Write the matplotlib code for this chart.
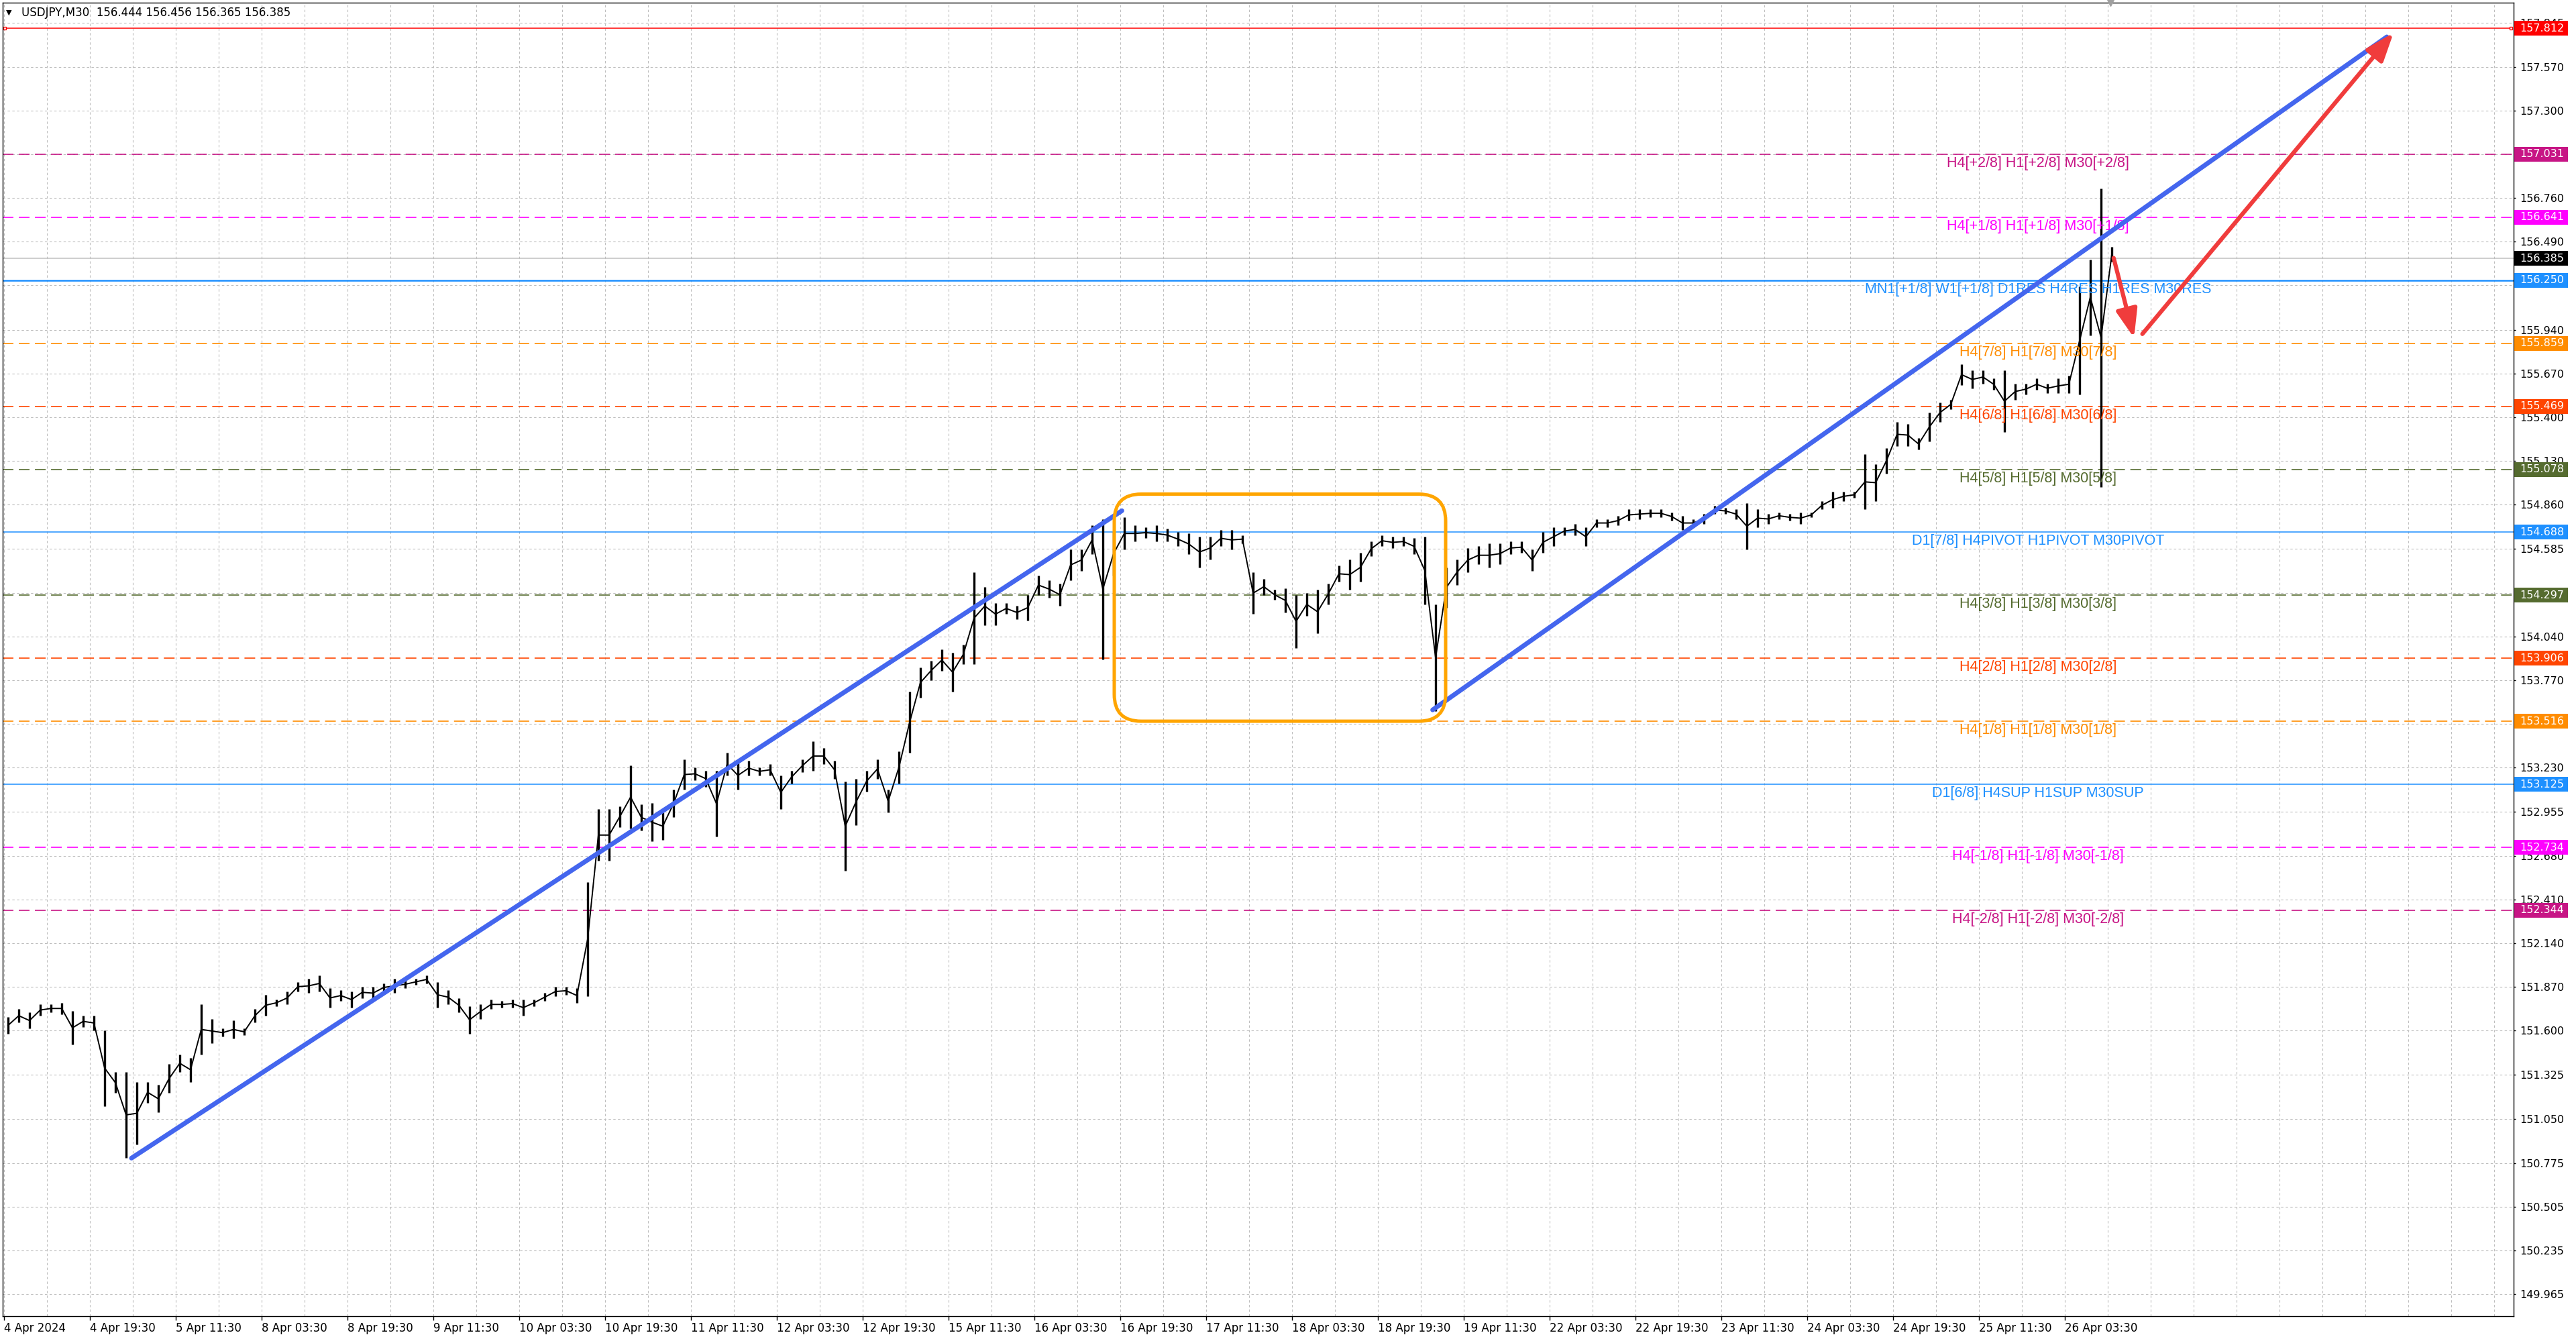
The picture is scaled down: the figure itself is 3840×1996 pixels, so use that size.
import numpy as np
import matplotlib
matplotlib.use('Agg')
import matplotlib.pyplot as plt
from matplotlib.patches import FancyBboxPatch, Rectangle

W, H = 3840, 1996
DPI = 100

# USDJPY M30 in 2-hour chunks (4 bars each): high / low
bar_hi = [151.68, 151.73, 151.71, 151.76, 151.76, 151.77, 151.72, 151.69, 151.69, 151.60,
          151.34, 151.34, 151.28, 151.28, 151.26, 151.39, 151.45, 151.43, 151.76, 151.67,
          151.61, 151.66, 151.61, 151.73, 151.82, 151.79, 151.84, 151.90, 151.92, 151.94,
          151.86, 151.85, 151.84, 151.87, 151.87, 151.89, 151.92, 151.91, 151.92, 151.94,
          151.90, 151.85, 151.80, 151.75, 151.76, 151.79, 151.78, 151.79, 151.79, 151.79,
          151.83, 151.87, 151.87, 151.86, 152.52, 152.97, 152.97, 152.99, 153.24, 153.00,
          153.01, 152.95, 153.09, 153.28, 153.23, 153.21, 153.21, 153.32, 153.27, 153.27,
          153.23, 153.25, 153.18, 153.21, 153.28, 153.39, 153.35, 153.27, 153.14, 153.16,
          153.21, 153.28, 153.09, 153.33, 153.70, 153.85, 153.89, 153.96, 153.94, 153.99,
          154.44, 154.35, 154.25, 154.25, 154.23, 154.30, 154.42, 154.39, 154.37, 154.58,
          154.58, 154.73, 154.77, 154.69, 154.78, 154.73, 154.72, 154.73, 154.71, 154.69,
          154.68, 154.66, 154.66, 154.70, 154.70, 154.67, 154.44, 154.40, 154.33, 154.34,
          154.30, 154.31, 154.33, 154.37, 154.48, 154.52, 154.56, 154.63, 154.67, 154.66,
          154.66, 154.65, 154.66, 154.24, 154.47, 154.52, 154.59, 154.60, 154.62, 154.62,
          154.63, 154.63, 154.58, 154.69, 154.72, 154.72, 154.74, 154.72, 154.77, 154.77,
          154.79, 154.83, 154.83, 154.83, 154.83, 154.81, 154.79, 154.77, 154.80, 154.85,
          154.84, 154.83, 154.87, 154.83, 154.80, 154.81, 154.80, 154.81, 154.81, 154.88,
          154.94, 154.94, 154.94, 155.17, 155.11, 155.21, 155.37, 155.36, 155.27, 155.43,
          155.49, 155.51, 155.73, 155.69, 155.69, 155.64, 155.69, 155.61, 155.61, 155.64,
          155.61, 155.64, 155.66, 156.21, 156.38, 156.82, 156.456]
bar_lo = [151.58, 151.65, 151.61, 151.69, 151.71, 151.70, 151.51, 151.62, 151.60, 151.13,
          151.21, 150.81, 150.89, 151.15, 151.09, 151.21, 151.34, 151.28, 151.45, 151.52,
          151.56, 151.55, 151.57, 151.65, 151.69, 151.75, 151.76, 151.84, 151.83, 151.84,
          151.74, 151.78, 151.74, 151.80, 151.79, 151.84, 151.83, 151.86, 151.88, 151.89,
          151.74, 151.76, 151.71, 151.58, 151.67, 151.73, 151.74, 151.74, 151.69, 151.75,
          151.78, 151.81, 151.82, 151.77, 151.81, 152.65, 152.65, 152.86, 152.85, 152.84,
          152.77, 152.78, 152.92, 153.09, 153.15, 153.11, 152.80, 153.18, 153.09, 153.18,
          153.18, 153.18, 152.97, 153.13, 153.20, 153.21, 153.25, 153.16, 152.59, 152.87,
          153.08, 153.16, 152.95, 153.13, 153.32, 153.66, 153.77, 153.83, 153.70, 153.87,
          153.87, 154.11, 154.11, 154.18, 154.15, 154.14, 154.30, 154.28, 154.23, 154.39,
          154.45, 154.55, 153.90, 154.42, 154.58, 154.63, 154.65, 154.63, 154.63, 154.60,
          154.55, 154.47, 154.52, 154.60, 154.58, 154.62, 154.18, 154.30, 154.27, 154.19,
          153.97, 154.17, 154.06, 154.24, 154.38, 154.33, 154.38, 154.54, 154.60, 154.59,
          154.60, 154.55, 154.24, 153.58, 154.22, 154.36, 154.44, 154.49, 154.47, 154.49,
          154.55, 154.56, 154.45, 154.56, 154.60, 154.67, 154.67, 154.60, 154.72, 154.72,
          154.73, 154.76, 154.77, 154.78, 154.78, 154.76, 154.70, 154.72, 154.74, 154.80,
          154.80, 154.77, 154.58, 154.72, 154.74, 154.77, 154.76, 154.74, 154.78, 154.83,
          154.84, 154.88, 154.90, 154.83, 154.88, 155.05, 155.22, 155.22, 155.20, 155.25,
          155.37, 155.45, 155.60, 155.58, 155.61, 155.57, 155.31, 155.51, 155.54, 155.57,
          155.55, 155.55, 155.55, 155.54, 155.91, 154.97, 156.365]
bars_per_chunk = 4

# horizontal levels on the right scale
level_price = [157.812, 157.031, 156.641, 156.385, 156.250, 155.859, 155.469, 155.078,
               154.688, 154.297, 153.906, 153.516, 153.125, 152.734, 152.344]
level_text = ['', 'H4[+2/8] H1[+2/8] M30[+2/8]', 'H4[+1/8] H1[+1/8] M30[+1/8]', '',
              'MN1[+1/8] W1[+1/8] D1RES H4RES H1RES M30RES',
              'H4[7/8] H1[7/8] M30[7/8]', 'H4[6/8] H1[6/8] M30[6/8]', 'H4[5/8] H1[5/8] M30[5/8]',
              'D1[7/8] H4PIVOT H1PIVOT M30PIVOT',
              'H4[3/8] H1[3/8] M30[3/8]', 'H4[2/8] H1[2/8] M30[2/8]', 'H4[1/8] H1[1/8] M30[1/8]',
              'D1[6/8] H4SUP H1SUP M30SUP',
              'H4[-1/8] H1[-1/8] M30[-1/8]', 'H4[-2/8] H1[-2/8] M30[-2/8]']
level_colors = ['#FF0000', '#C71585', '#FF00FF', '#C0C0C0', '#1E90FF', '#FF8C00', '#FF4500',
                '#556B2F', '#1E90FF', '#556B2F', '#FF4500', '#FF8C00', '#1E90FF', '#FF00FF',
                '#C71585']
level_box_colors = ['#FF0000', '#C71585', '#FF00FF', '#000000', '#1E90FF', '#FF8C00', '#FF4500',
                    '#556B2F', '#1E90FF', '#556B2F', '#FF4500', '#FF8C00', '#1E90FF', '#FF00FF',
                    '#C71585']
level_kind = ['solid', 'dash', 'dash', 'solid', 'thick', 'dash', 'dash', 'dash',
              'solid', 'dash', 'dash', 'dash', 'solid', 'dash', 'dash']

ytick_vals = [157.845, 157.570, 157.300, 157.030, 156.760, 156.490, 156.220, 155.940, 155.670,
              155.400, 155.130, 154.860, 154.585, 154.310, 154.040, 153.770, 153.500, 153.230,
              152.955, 152.680, 152.410, 152.140, 151.870, 151.600, 151.325, 151.050, 150.775,
              150.505, 150.235, 149.965]
ytick_hidden = [157.030, 156.220, 153.500]

xtick_labels = ['4 Apr 2024', '4 Apr 19:30', '5 Apr 11:30', '8 Apr 03:30', '8 Apr 19:30',
                '9 Apr 11:30', '10 Apr 03:30', '10 Apr 19:30', '11 Apr 11:30', '12 Apr 03:30',
                '12 Apr 19:30', '15 Apr 11:30', '16 Apr 03:30', '16 Apr 19:30', '17 Apr 11:30',
                '18 Apr 03:30', '18 Apr 19:30', '19 Apr 11:30', '22 Apr 03:30', '22 Apr 19:30',
                '23 Apr 11:30', '24 Apr 03:30', '24 Apr 19:30', '25 Apr 11:30', '26 Apr 03:30']
bars_per_label = 32

# drawn objects (bar index, price)
trend1 = [(47.5, 150.807), (416.6, 154.821)]
trend2 = [(532.4, 153.586), (888.0, 157.759)]
box_range = [(413.75, 153.516), (537.25, 154.924)]
arrow_down = [(786.2, 156.388), (793.8, 155.893)]
arrow_up = [(796.9, 155.917), (890.5, 157.784)]
header = 'USDJPY,M30  156.444 156.456 156.365 156.385'

plt.rcParams['lines.scale_dashes'] = False

fig = plt.figure(figsize=(W / DPI, H / DPI), dpi=DPI)
ax_left, ax_top, ax_right, ax_bot = 4, 4, 3747, 1961.5
ax = fig.add_axes([ax_left / W, (H - ax_bot) / H, (ax_right - ax_left) / W, (ax_bot - ax_top) / H])
ax.set_xlim(-0.5, 935.25)
ax.set_ylim(149.829, 157.971)
px_per_unit = (ax_bot - ax_top) / (157.971 - 149.829)
ax.set_axisbelow(True)

for s in ax.spines.values():
    s.set_color('black')
    s.set_linewidth(1.0)

# grid
ax.yaxis.tick_right()
ax.set_yticks(ytick_vals)
ax.set_yticklabels(['' if v in ytick_hidden else '%.3f' % v for v in ytick_vals])
ax.tick_params(axis='y', length=2.5, pad=4, labelsize=11.5, colors='black', width=1)
xt = np.arange(len(xtick_labels)) * bars_per_label
ax.set_xticks(xt)
ax.set_xticklabels(xtick_labels, ha='left')
ax.set_xticks(np.arange(0, 936, 16), minor=True)
ax.tick_params(axis='x', which='major', length=4, pad=3, labelsize=12, width=1)
ax.tick_params(axis='x', which='minor', length=0)
grid_kw = dict(color='#BEBEBE', lw=0.8, ls=(0, (2.5, 2.5)))
ax.yaxis.grid(True, **grid_kw)
ax.xaxis.grid(True, which='both', **grid_kw)

# levels
for p, txt, c, bc, kind in zip(level_price, level_text, level_colors, level_box_colors, level_kind):
    if kind == 'dash':
        ax.axhline(p, color=c, lw=1.2, ls=(0, (11.5, 5.8)), zorder=2)
    elif kind == 'thick':
        ax.axhline(p, color=c, lw=1.8, zorder=2)
    elif c == '#FF0000':
        ax.plot([0.2, 934.3], [p, p], color=c, lw=1.1, zorder=2, marker='s', ms=3.5,
                mfc='white', mec=c, mew=1.0)
    else:
        ax.axhline(p, color=c, lw=1.1, zorder=2)
    if txt:
        ax.annotate(txt, xy=(758, p), xytext=(0, -3), textcoords='offset pixels',
                    ha='center', va='top', color=c, fontsize=15.5, family='Liberation Sans',
                    zorder=4)
    bh = 22 / px_per_unit
    ax.add_patch(Rectangle((1 + 1 / 3743, p - bh / 2), 80 / 3743, bh,
                           transform=ax.get_yaxis_transform(), facecolor=bc, edgecolor='none',
                           clip_on=False, zorder=8))
    ax.text(1 + 9 / 3743, p, '%.3f' % p, transform=ax.get_yaxis_transform(),
            ha='left', va='center', color='white', fontsize=11.5, zorder=9, clip_on=False)

# price bars
x = np.arange(len(bar_hi)) * bars_per_chunk + 1.5
hi = np.array(bar_hi)
lo = np.array(bar_lo)
ax.vlines(x, lo, hi, color='black', lw=2.4, zorder=3)
ax.plot(x, (hi + lo) / 2, color='black', lw=1.4, zorder=3)

# trend lines
for tl in (trend1, trend2):
    ax.plot([tl[0][0], tl[1][0]], [tl[0][1], tl[1][1]], color='#4466EE', lw=5,
            solid_capstyle='round', zorder=5)

# consolidation box
(bx0, by0), (bx1, by1) = box_range
ax.add_patch(FancyBboxPatch((bx0, by0), bx1 - bx0, by1 - by0,
                            boxstyle='round,pad=0,rounding_size=10',
                            mutation_aspect=1 / (px_per_unit / 4),
                            fill=False, edgecolor='#FFA500', lw=3.6, zorder=5))

# red arrows
for a in (arrow_down, arrow_up):
    ax.annotate('', xy=a[1], xytext=a[0],
                arrowprops=dict(arrowstyle='-|>,head_length=1.6,head_width=0.6',
                                mutation_scale=16, color='#F03C3C', lw=4.5,
                                shrinkA=0, shrinkB=0), zorder=6)

# chart shift marker
ax.plot([785], [157.971], marker='v', ms=7, color='#A0A0A0', clip_on=False, zorder=7)

# header
fig.text(9 / W, 1 - 19 / H, '\u25BC', fontsize=8, va='center', ha='left', color='black')
fig.text(31.6 / W, 1 - 19 / H, header, fontsize=12, va='center', ha='left', color='black')

fig.savefig('out.png', dpi=DPI, facecolor='white')
